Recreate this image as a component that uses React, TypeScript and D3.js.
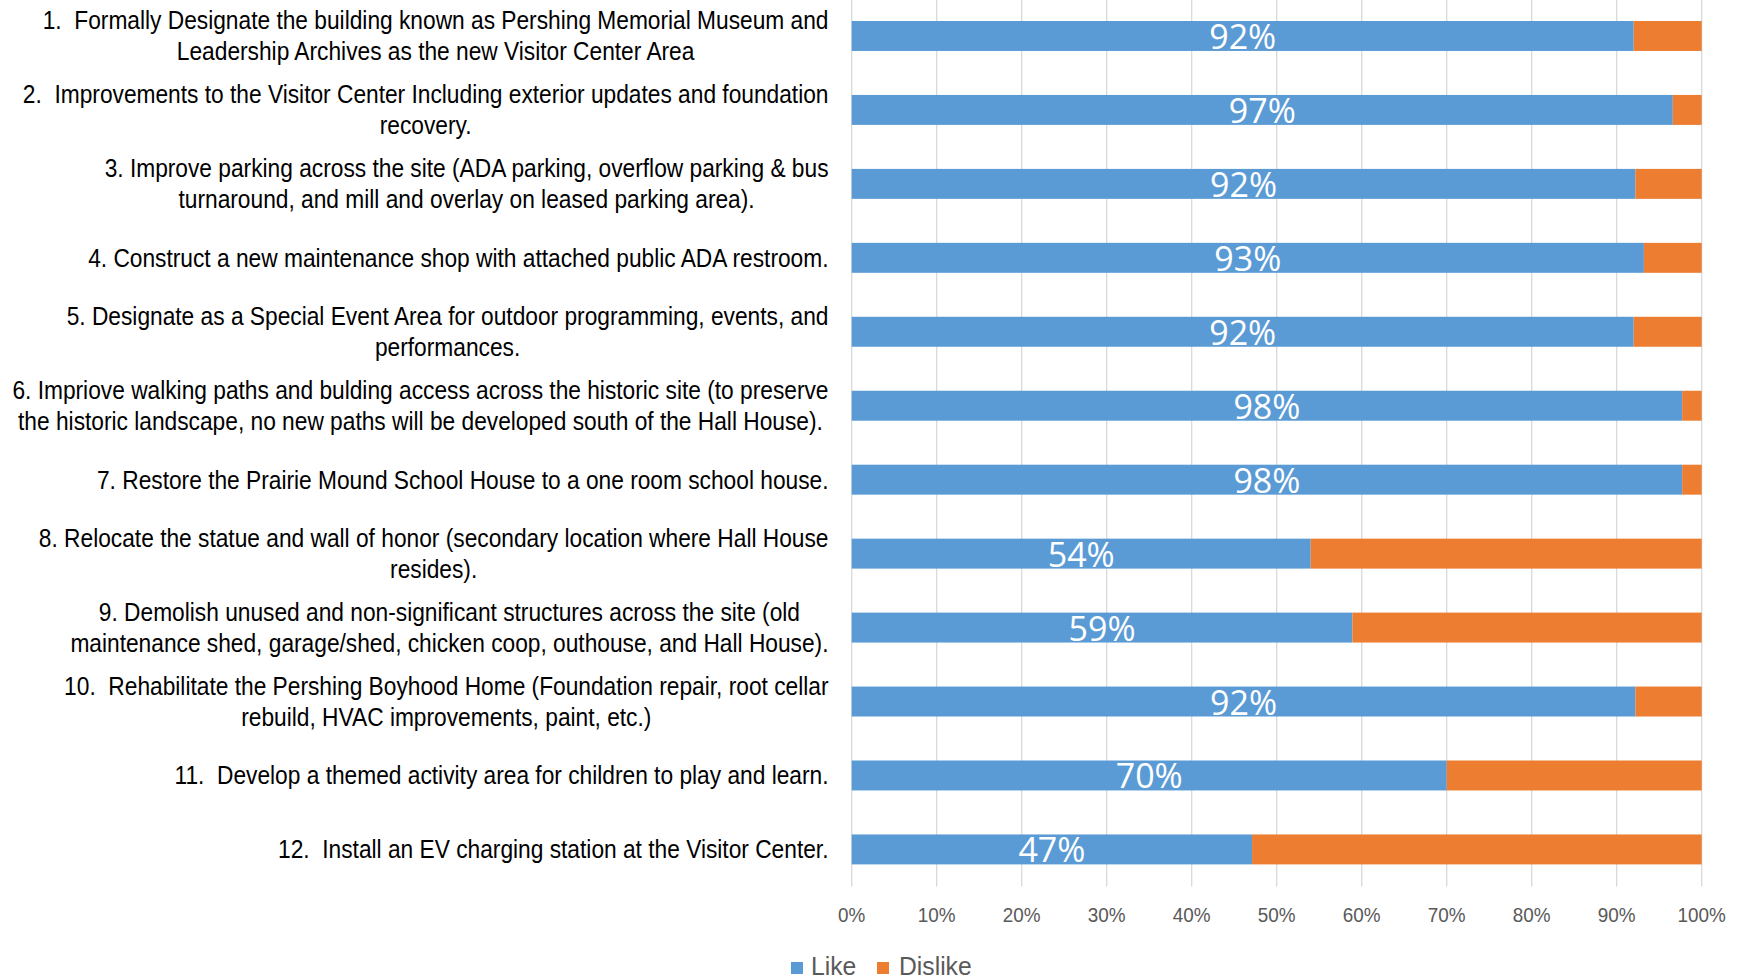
import * as d3 from "d3";
import { useEffect, useRef } from "react";

// survey items, each split into the lines shown on the chart
const categories: string[][] = [
  ["1.  Formally Designate the building known as Pershing Memorial Museum and", "Leadership Archives as the new Visitor Center Area"],
  ["2.  Improvements to the Visitor Center Including exterior updates and foundation", "recovery."],
  ["3. Improve parking across the site (ADA parking, overflow parking & bus", "turnaround, and mill and overlay on leased parking area)."],
  ["4. Construct a new maintenance shop with attached public ADA restroom."],
  ["5. Designate as a Special Event Area for outdoor programming, events, and", "performances."],
  ["6. Impriove walking paths and bulding access across the historic site (to preserve", "the historic landscape, no new paths will be developed south of the Hall House)."],
  ["7. Restore the Prairie Mound School House to a one room school house."],
  ["8. Relocate the statue and wall of honor (secondary location where Hall House", "resides)."],
  ["9. Demolish unused and non-significant structures across the site (old", "maintenance shed, garage/shed, chicken coop, outhouse, and Hall House)."],
  ["10.  Rehabilitate the Pershing Boyhood Home (Foundation repair, root cellar", "rebuild, HVAC improvements, paint, etc.)"],
  ["11.  Develop a themed activity area for children to play and learn."],
  ["12.  Install an EV charging station at the Visitor Center."],
];

const like = [92, 96.6, 92.2, 93.2, 92, 97.7, 97.7, 54, 58.9, 92.2, 70, 47.1];
const dislike = [8, 3.4, 7.8, 6.8, 8, 2.3, 2.3, 46, 41.1, 7.8, 30, 52.9];

const xTicks = [0, 10, 20, 30, 40, 50, 60, 70, 80, 90, 100];

const seriesNames = ["Like", "Dislike"];
const colors = ["#5B9BD5", "#ED7D31"];

const App = () => {
  const ref = useRef<SVGSVGElement>(null);
  const width = 1739;
  const height = 979;

  useEffect(() => {
    const svg = d3.select(ref.current);
    svg.selectAll("*").remove();

    const labelFont = "'Liberation Sans', Arial, sans-serif";
    const plotLeft = 851.7;
    const plotRight = 1701.7;
    const plotBottom = 886.5;

    const x = d3.scaleLinear().domain([0, 100]).range([plotLeft, plotRight]);
    const y = d3
      .scaleBand()
      .domain(categories.map((_, i) => String(i)))
      .range([-1, 886.4])
      .paddingInner(0.595)
      .paddingOuter(0.2975);

    // gridlines
    svg
      .append("g")
      .selectAll("line")
      .data(xTicks)
      .join("line")
      .attr("x1", (d) => x(d))
      .attr("x2", (d) => x(d))
      .attr("y1", 0)
      .attr("y2", plotBottom)
      .attr("stroke", "#D9D9D9")
      .attr("stroke-width", 1.3);

    // stacked bars
    const rows = like.map((l, i) => ({ i, like: l, dislike: dislike[i] }));
    const stack = d3.stack<any>().keys(["like", "dislike"])(rows);
    svg
      .append("g")
      .selectAll("g")
      .data(stack)
      .join("g")
      .attr("fill", (_, k) => colors[k])
      .selectAll("rect")
      .data((s) => s)
      .join("rect")
      .attr("x", (d) => x(d[0]))
      .attr("width", (d) => x(d[1]) - x(d[0]))
      .attr("y", (d) => y(String(d.data.i))!)
      .attr("height", y.bandwidth());

    // value labels
    svg
      .append("g")
      .selectAll("text")
      .data(rows)
      .join("text")
      .attr("x", (d) => (x(0) + x(d.like)) / 2)
      .attr("y", (d) => y(String(d.i))! + y.bandwidth() / 2 + 13)
      .attr("text-anchor", "middle")
      .attr("fill", "#FFFFFF")
      .style("font-family", "'Open Sans', sans-serif")
      .style("font-size", "34px")
      .text((d) => `${Math.round(d.like)}%`);

    // category labels: condensed look via horizontal scale, lines centered in a right-aligned block
    const labelRight = 828.5;
    const lineGap = 31;
    const squeeze = 0.875;
    categories.forEach((lines, i) => {
      const cy = y(String(i))! + y.bandwidth() / 2;
      const g = svg
        .append("g")
        .attr("transform", `translate(${labelRight},0) scale(${squeeze},1)`);
      const texts = g
        .selectAll("text")
        .data(lines)
        .join("text")
        .attr("y", (_, j) => cy + (j - (lines.length - 1) / 2) * lineGap + 9)
        .attr("text-anchor", "middle")
        .attr("fill", "#000000")
        .attr("xml:space", "preserve")
        .style("white-space", "pre")
        .style("font-family", labelFont)
        .style("font-size", "26px")
        .text((d) => d);
      let maxW = 0;
      texts.each(function () {
        maxW = Math.max(maxW, (this as SVGTextElement).getComputedTextLength());
      });
      texts.attr("x", -maxW / 2);
    });

    // x axis tick labels
    svg
      .append("g")
      .selectAll("text")
      .data(xTicks)
      .join("text")
      .attr("transform", (d) => `translate(${x(d)},922) scale(0.9,1)`)
      .attr("text-anchor", "middle")
      .attr("fill", "#595959")
      .style("font-family", labelFont)
      .style("font-size", "21px")
      .text((d) => `${d}%`);

    // legend
    const legend = svg.append("g");
    const swatchX = [791, 877];
    const textX = [811, 899];
    seriesNames.forEach((name, k) => {
      legend
        .append("rect")
        .attr("x", swatchX[k])
        .attr("y", 962)
        .attr("width", 12)
        .attr("height", 12)
        .attr("fill", colors[k]);
      legend
        .append("text")
        .attr("transform", `translate(${textX[k]},975) scale(0.95,1)`)
        .attr("fill", "#595959")
        .style("font-family", labelFont)
        .style("font-size", "26px")
        .text(name);
    });
  }, []);

  return (
    <svg
      ref={ref}
      width={width}
      height={height}
      viewBox={`0 0 ${width} ${height}`}
      style={{ position: "absolute", left: 0, top: 0, background: "#FFFFFF" }}
    ></svg>
  );
};

export default App;
